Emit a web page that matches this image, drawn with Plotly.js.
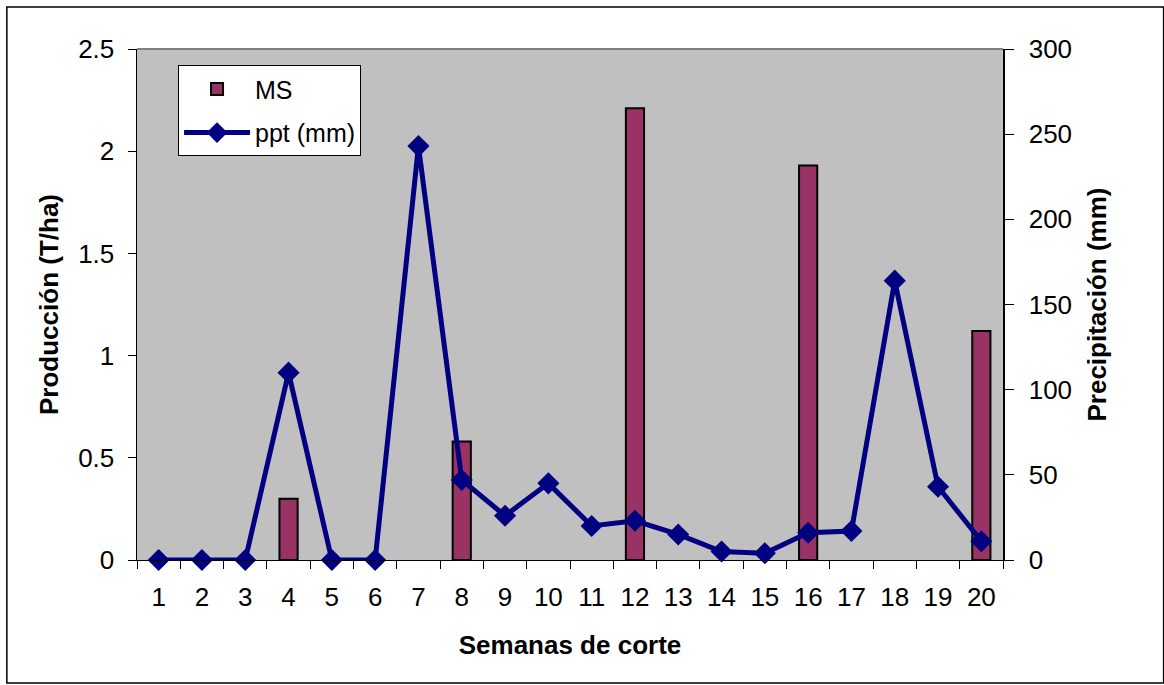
<!DOCTYPE html>
<html>
<head>
<meta charset="utf-8">
<script src="https://cdn.plot.ly/plotly-3.0.1.min.js"></script>
<style>html,body{margin:0;padding:0;background:#fff;}#chart{width:1164px;height:685px;}</style>
</head>
<body>
<div id="chart"></div>
<script>
var weeks = ["1","2","3","4","5","6","7","8","9","10","11","12","13","14","15","16","17","18","19","20"];
var msValues = [null,null,null,0.30,null,null,null,0.58,null,null,null,2.21,null,null,null,1.93,null,null,null,1.12];
var pptValues = [0,0,0,110,0,0,243,47,26,45,20,23,15,5,4,16,17,164,43,11];
var leftTicks = [0,0.5,1,1.5,2,2.5];
var leftTickText = ["0","0.5","1","1.5","2","2.5"];
var rightTicks = [0,50,100,150,200,250,300];

var FONT = "Liberation Sans, Arial, sans-serif";
var FS = 26;

var traces = [
  {
    type: "bar", name: "MS", x: weeks, y: msValues, yaxis: "y",
    width: 0.42, legendgroup: "ms",
    marker: {color: "#993366", line: {color: "#000000", width: 2}}
  },
  {
    type: "scatter", mode: "lines+markers", name: "ppt (mm)", x: weeks, y: pptValues, yaxis: "y2",
    legendgroup: "ppt",
    line: {color: "#000080", width: 5},
    marker: {symbol: "diamond", size: 17, color: "#000080"},
    cliponaxis: false
  }
];

var layout = {
  width: 1164, height: 685,
  margin: {l: 137, r: 161, t: 49, b: 125},
  paper_bgcolor: "#ffffff",
  plot_bgcolor: "#c0c0c0",
  font: {family: FONT, size: FS, color: "#000"},
  showlegend: true,
  legend: {
    x: 0.0474, y: 0.968, xanchor: "left", yanchor: "top",
    bgcolor: "#ffffff", bordercolor: "#000000", borderwidth: 1,
    font: {family: FONT, size: 25, color: "#000"},
    traceorder: "grouped", itemwidth: 66, tracegroupgap: 8
  },
  xaxis: {
    type: "category",
    range: [-0.5, 19.5],
    tickson: "boundaries",
    ticks: "outside", ticklen: 8, tickcolor: "#000", tickwidth: 1,
    showline: true, linecolor: "#000", linewidth: 1,
    showgrid: false, zeroline: false,
    ticklabelstandoff: 14,
    tickfont: {family: FONT, size: FS, color: "#000"},
    title: {text: "<b>Semanas de corte</b>", font: {family: FONT, size: FS, color: "#000"}, standoff: 24}
  },
  yaxis: {
    range: [0, 2.5],
    tickvals: leftTicks, ticktext: leftTickText,
    ticks: "outside", ticklen: 8, tickcolor: "#000",
    showline: true, linecolor: "#000", linewidth: 1.5,
    showgrid: false, zeroline: false,
    ticklabelstandoff: 8,
    tickfont: {family: FONT, size: FS, color: "#000"},
    title: {text: "<b>Producción (T/ha)</b>", font: {family: FONT, size: FS, color: "#000"}, standoff: 12}
  },
  yaxis2: {
    range: [0, 300], overlaying: "y", side: "right",
    tickvals: rightTicks,
    ticks: "outside", ticklen: 9, tickcolor: "#000",
    showline: true, linecolor: "#000", linewidth: 1.5,
    showgrid: false, zeroline: false,
    ticklabelstandoff: 10,
    tickfont: {family: FONT, size: FS, color: "#000"},
    title: {text: "<b>Precipitación (mm)</b>", font: {family: FONT, size: FS, color: "#000"}, standoff: 16}
  },
  shapes: [
    {type: "line", xref: "paper", yref: "paper", x0: 0, x1: 1, y0: 1, y1: 1, line: {color: "#808080", width: 2}},
    {type: "rect", xref: "paper", yref: "paper", x0: -0.1503, x1: 1.1855, y0: -0.2407, y1: 1.0822, line: {color: "#000", width: 1.5}, layer: "below"}
  ]
};

Plotly.newPlot("chart", traces, layout, {displayModeBar: false, staticPlot: true});
</script>
</body>
</html>
